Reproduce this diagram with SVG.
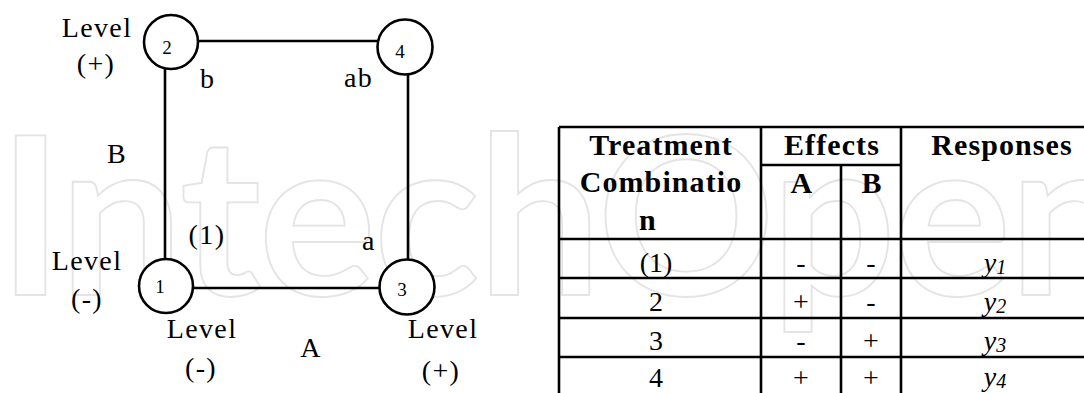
<svg xmlns="http://www.w3.org/2000/svg" width="1084" height="393" viewBox="0 0 1084 393">
  <style>
    .lbl { font-family: "Liberation Serif", "Times New Roman", serif; font-size: 28px; fill: #000; letter-spacing: 1.4px; }
    .mid { text-anchor: middle; }
    .num { font-family: "Liberation Serif", "Times New Roman", serif; font-size: 19px; fill: #000; text-anchor: middle; }
    .hd { font-family: "Liberation Serif", "Times New Roman", serif; font-size: 30px; font-weight: bold; fill: #000; text-anchor: middle; letter-spacing: 1.1px; }
    .cell { font-family: "Liberation Serif", "Times New Roman", serif; font-size: 28px; fill: #000; text-anchor: middle; }
    .yv { font-family: "Liberation Serif", "Times New Roman", serif; font-size: 28px; font-style: italic; fill: #000; text-anchor: middle; }
    .edge { stroke: #000; stroke-width: 2.6; fill: none; }
    .node { stroke: #000; stroke-width: 2.6; fill: #fff; }
    .grid { stroke: #000; stroke-width: 2.6; fill: none; }
    .wm { font-family: Lato, "Open Sans", sans-serif; font-size: 220px; font-weight: bold; fill: none; stroke: #e4e4e4; stroke-width: 1.8; }
  </style>

  <rect width="1084" height="393" fill="#fff"/>

  <!-- background watermark -->
  <text class="wm" x="-2" y="295" textLength="1135" lengthAdjust="spacing">IntechOpen</text>

  <!-- connectors of the 2x2 design square -->
  <g id="connectors">
    <line class="edge" x1="197" y1="41" x2="378" y2="41"/>
    <line class="edge" x1="193" y1="288" x2="380" y2="288"/>
    <line class="edge" x1="165" y1="69" x2="165" y2="259"/>
    <line class="edge" x1="408" y1="74" x2="408" y2="260"/>
  </g>

  <g id="node-2">
    <circle class="node" cx="171" cy="42" r="27"/>
    <text class="num" x="167" y="54">2</text>
  </g>
  <g id="node-4">
    <circle class="node" cx="405" cy="47" r="27.5"/>
    <text class="num" x="400" y="58">4</text>
  </g>
  <g id="node-1">
    <circle class="node" cx="166" cy="286" r="27"/>
    <text class="num" x="160" y="293">1</text>
  </g>
  <g id="node-3">
    <circle class="node" cx="407" cy="287" r="27.5"/>
    <text class="num" x="402" y="296">3</text>
  </g>

  <!-- factor level and treatment labels -->
  <g id="labels">
    <text class="lbl mid" x="97" y="37">Level</text>
    <text class="lbl mid" x="96" y="73">(+)</text>
    <text class="lbl" x="200" y="88">b</text>
    <text class="lbl" x="344" y="87">ab</text>
    <text class="lbl mid" x="117" y="163">B</text>
    <text class="lbl mid" x="207" y="244">(1)</text>
    <text class="lbl mid" x="369" y="250">a</text>
    <text class="lbl mid" x="87" y="270">Level</text>
    <text class="lbl mid" x="87" y="308">(-)</text>
    <text class="lbl mid" x="202" y="338">Level</text>
    <text class="lbl mid" x="311" y="357">A</text>
    <text class="lbl mid" x="201" y="377">(-)</text>
    <text class="lbl mid" x="443" y="338">Level</text>
    <text class="lbl mid" x="441" y="380">(+)</text>
  </g>

  <!-- treatment / effects / responses table -->
  <g id="table">
    <g class="grid">
      <line x1="559" y1="127" x2="1100" y2="127"/>
      <line x1="761" y1="165" x2="901" y2="165"/>
      <line x1="559" y1="239" x2="1100" y2="239"/>
      <line x1="559" y1="278" x2="1100" y2="278"/>
      <line x1="559" y1="318" x2="1100" y2="318"/>
      <line x1="559" y1="357" x2="1100" y2="357"/>
      <line x1="559" y1="127" x2="559" y2="400"/>
      <line x1="761" y1="127" x2="761" y2="400"/>
      <line x1="841" y1="165" x2="841" y2="400"/>
      <line x1="901" y1="127" x2="901" y2="400"/>
    </g>

    <text class="hd" x="661" y="155">Treatment</text>
    <text class="hd" x="661" y="192">Combinatio</text>
    <text class="hd" x="648" y="230">n</text>
    <text class="hd" x="832" y="155">Effects</text>
    <text class="hd" x="802" y="193">A</text>
    <text class="hd" x="872" y="193">B</text>
    <text class="hd" x="1002" y="155">Responses</text>

    <text class="cell" x="656" y="272">(1)</text>
    <text class="cell" x="801" y="272">-</text>
    <text class="cell" x="871" y="272">-</text>
    <text class="yv" x="995" y="272">y<tspan font-size="20" dy="2">1</tspan></text>

    <text class="cell" x="656" y="311">2</text>
    <text class="cell" x="801" y="311">+</text>
    <text class="cell" x="871" y="311">-</text>
    <text class="yv" x="995" y="311">y<tspan font-size="20" dy="2">2</tspan></text>

    <text class="cell" x="656" y="350">3</text>
    <text class="cell" x="801" y="350">-</text>
    <text class="cell" x="871" y="350">+</text>
    <text class="yv" x="995" y="350">y<tspan font-size="20" dy="2">3</tspan></text>

    <text class="cell" x="656" y="387">4</text>
    <text class="cell" x="801" y="387">+</text>
    <text class="cell" x="871" y="387">+</text>
    <text class="yv" x="995" y="386">y<tspan font-size="20" dy="2">4</tspan></text>
  </g>
</svg>
